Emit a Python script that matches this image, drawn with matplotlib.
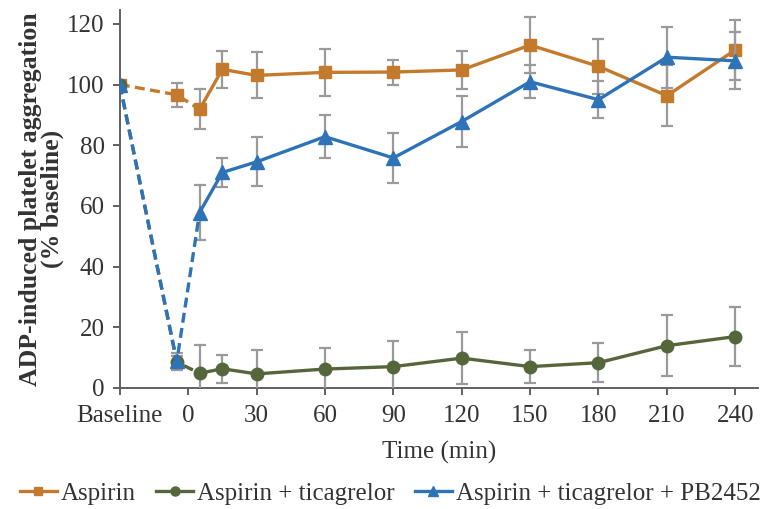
import numpy as np
import matplotlib.pyplot as plt

plt.rcParams['font.family'] = ['Liberation Serif', 'DejaVu Serif']

# time points (min); baseline is drawn at -30 and labelled "Baseline"
times = [-30, -5, 5, 15, 30, 60, 90, 120, 150, 180, 210, 240]
tick_pos = [-30, 0, 30, 60, 90, 120, 150, 180, 210, 240]
tick_lab = ['Baseline', '0', '30', '60', '90', '120', '150', '180', '210', '240']

aspirin = [100, 96.6, 91.8, 105, 103, 104, 104.1, 104.8, 113, 106, 96.3, 111.4]
aspirin_err = [0, 4, 6.6, 6, 7.6, 7.8, 4.1, 6.4, 9.2, 9, 10, 10]

ticag = [100, 8.5, 4.8, 6.3, 4.6, 6.2, 7, 9.8, 7, 8.3, 13.9, 16.9]
ticag_err = [0, 2, 9.4, 4.6, 8, 7, 8.3, 8.6, 5.5, 6.4, 10, 9.7]

pb = [100, 8.7, 57.8, 71, 74.5, 82.8, 75.8, 87.8, 100.9, 95, 109, 107.8]
pb_err = [0, 2.7, 9.2, 4.7, 8.1, 7, 8.2, 8.4, 5.5, 6, 10, 9.4]

series = [
    ('Aspirin', aspirin, aspirin_err, '#C47A2C', 's', 8.5),
    ('Aspirin + ticagrelor', ticag, ticag_err, '#56663B', 'o', 9),
    ('Aspirin + ticagrelor + PB2452', pb, pb_err, '#2F73B7', '^', 9.5),
]

fig = plt.figure(figsize=(7.68, 5.09), dpi=100)
ax = fig.add_axes([0.156, 0.238, 0.831, 0.742])

t = np.array(times)
for i, (name, y, e, col, mk, ms) in enumerate(series):
    y = np.array(y)
    z = 2 + i
    ax.errorbar(t[1:], y[1:], yerr=e[1:], fmt='none', ecolor='#9A9A9A',
                elinewidth=1.6, capsize=4, capthick=1.6, zorder=z)
    # dashed lead-in from baseline to first post-dose point
    ax.plot(t[:3], y[:3], color=col, lw=2.4, ls=(0, (3, 1.6)), zorder=z)
    ax.plot(t[2:], y[2:], color=col, lw=2.4, zorder=z)
    ax.plot(t, y, ls='none', marker=mk, ms=ms, color=col, zorder=z + 0.5)
    ax.plot([], [], color=col, lw=2.4, marker=mk, ms=ms - 2.5, label=name)

ax.set_xlim(-30, 250)
ax.set_ylim(0, 124.5)
ax.set_yticks(range(0, 121, 20))
ax.set_xticks(tick_pos)
ax.set_xticklabels(tick_lab)

for s in ['top', 'right']:
    ax.spines[s].set_visible(False)
for s in ['left', 'bottom']:
    ax.spines[s].set_color('#606060')
    ax.spines[s].set_linewidth(1.4)
ax.tick_params(direction='out', length=5, width=1.4, color='#606060',
               labelsize=18, labelcolor='#333333')
ax.tick_params(axis='x', pad=7)
ax.tick_params(axis='y', pad=6)

ax.set_ylabel('ADP-induced platelet aggregation\n(% baseline)', fontsize=18.5,
              fontweight='bold', color='#333333', labelpad=2, linespacing=0.95)
ax.set_xlabel('Time (min)', fontsize=18, color='#333333', labelpad=10)

fig.legend(loc='center', bbox_to_anchor=(0.508, 0.03), ncol=3, frameon=False,
           fontsize=18, handlelength=1.5, handletextpad=0.15, columnspacing=0.8,
           borderpad=0.1, labelcolor='#333333')

fig.savefig('out.png', dpi=100)
